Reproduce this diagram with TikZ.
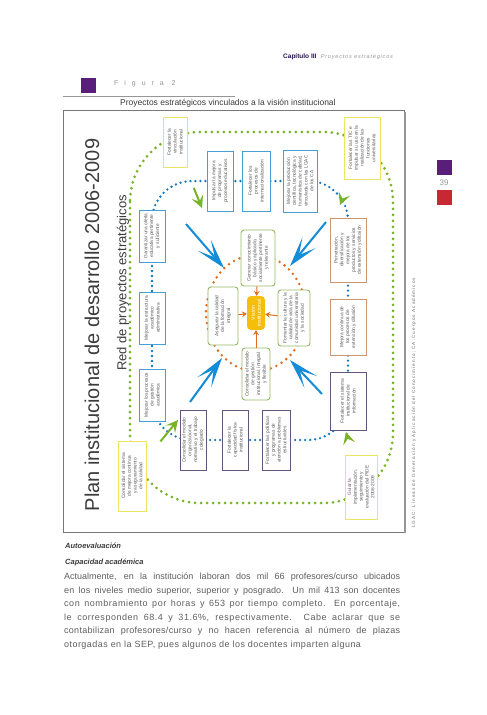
\documentclass[tikz,border=0pt]{standalone}
\usepackage{fontspec}
\setmainfont{Liberation Sans}
\newfontfamily\figlabelfont[LetterSpace=85]{Liberation Sans}
\newfontfamily\headfont[LetterSpace=15]{Liberation Sans}
\newfontfamily\notefont[LetterSpace=23]{Liberation Sans}
\usepackage{tikz}
\usetikzlibrary{positioning,arrows.meta,shapes.geometric}
\usepackage{xcolor}
\definecolor{figpurple}{RGB}{88,30,122}
\definecolor{pagered}{RGB}{200,40,52}
\definecolor{chapnavy}{RGB}{40,22,80}
\definecolor{softgray}{RGB}{150,150,150}
\definecolor{notegray}{RGB}{110,110,110}
\definecolor{bodygray}{RGB}{95,95,95}
\definecolor{titlegray}{RGB}{60,60,60}
\definecolor{framegray}{RGB}{120,120,120}
\definecolor{boxtext}{RGB}{90,90,90}
\definecolor{boxblue}{RGB}{70,160,210}
\definecolor{boxpurple}{RGB}{100,84,124}
\definecolor{boxtan}{RGB}{205,150,110}
\definecolor{boxyellow}{RGB}{238,228,100}
\definecolor{boxolive}{RGB}{150,185,100}
\definecolor{visionyellow}{RGB}{245,190,10}
\definecolor{dotgreen}{RGB}{120,180,40}
\definecolor{dotblue}{RGB}{20,120,190}
\definecolor{dotorange}{RGB}{225,110,30}
\definecolor{arrowblue}{RGB}{20,140,215}

\newcommand{\track}[1]{\addfontfeature{LetterSpace=#1}}

\tikzset{
  diagbox/.style={rotate=90, draw, fill=white, line width=0.9pt, align=center,
    inner sep=1pt, text=boxtext, font=\fontsize{4.8}{5.8}\selectfont},
  boxsize/.style 2 args={minimum width=#1pt, minimum height=#2pt},
  bluebox/.style={diagbox, draw=boxblue},
  purplebox/.style={diagbox, draw=boxpurple},
  tanbox/.style={diagbox, draw=boxtan},
  yellowbox/.style={diagbox, draw=boxyellow},
  innerbox/.style={diagbox, draw=boxolive, rounded corners=3pt},
  visionbox/.style={rotate=90, fill=visionyellow, rounded corners=4pt, text=white,
    align=center, inner sep=1pt, font=\fontsize{5.2}{6.2}\selectfont},
  greendots/.style={draw=dotgreen, line width=3pt, line cap=round, dash pattern=on 0pt off 6pt},
  bluedots/.style={draw=dotblue, line width=2.6pt, line cap=round, dash pattern=on 0pt off 5pt},
  orangedots/.style={draw=dotorange, line width=2.8pt, line cap=round, dash pattern=on 0pt off 6pt},
  bigarrow/.style={draw=arrowblue, line width=2pt, -{Stealth[length=30pt,width=17pt,inset=16pt]}},
  greentip/.style={draw=dotgreen, line width=2pt, shorten <=22pt, -{Stealth[length=12pt,width=12pt,inset=5pt]}},
  orangetip/.style={draw=dotorange, line width=1pt, -{Stealth[length=5pt,width=6pt,inset=2pt]}}
}

\begin{document}
\begin{tikzpicture}[x=1pt,y=-1pt]
\useasboundingbox[fill=white] (0,0) rectangle (487,715);

% page header
\node[anchor=west, inner sep=0, text=chapnavy, font=\bfseries\fontsize{6.5}{7}\selectfont] (chap) at (283,57) {Capítulo III};
\node[right=4pt of chap, inner sep=0, text=softgray, font=\headfont\itshape\fontsize{5.5}{6}\selectfont] (chaptitle) {Proyectos estratégicos};
\node[fill=figpurple, minimum size=15pt, inner sep=0] (figsquare) at (88,85) {};
\node[anchor=west, inner sep=0, text=softgray, font=\figlabelfont\fontsize{7}{8}\selectfont] (figlabel) at (114,84) {Figura 2};
\draw[softgray, line width=0.8pt] (63,96) -- (235,96);
\node[anchor=west, inner sep=0, text=titlegray, font=\fontsize{8.5}{9}\selectfont] (caption) at (120,103) {Proyectos estratégicos vinculados a la visión institucional};

% side marks
\node[fill=figpurple, minimum size=15pt, inner sep=0] (sidepurple) at (444,167) {};
\node[text=softgray, inner sep=0, font=\fontsize{8}{8}\selectfont] (pagenum) at (444,183) {39};
\node[fill=pagered, minimum size=15pt, inner sep=0] (sidered) at (444,197) {};

% figure frame
\draw[framegray, line width=0.7pt] (63,110) rectangle (404,532);
\draw[softgray, line width=2pt] (405,112) -- (405,533);

\node[rotate=90, inner sep=0, text=titlegray, font=\fontsize{20}{20}\selectfont] (plan) at (92,325) {Plan institucional de desarrollo 2006-2009};
\node[rotate=90, inner sep=0, text=titlegray, font=\fontsize{13}{13}\selectfont] (red) at (123,283) {Red de proyectos estratégicos};
\node[rotate=90, anchor=west, inner sep=0, text=notegray, font=\notefont\fontsize{4.6}{5}\selectfont] (lgac) at (414,528) {LGAC: Líneas de Generación y Aplicación del Conocimiento; CA:Cuerpos Académicos};

% rings
\draw[greendots, rounded corners=70pt] (130,132) rectangle (393,503);
\draw[bluedots, rounded corners=40pt] (152,181) rectangle (348,440);
\draw[orangedots] (256,313) ellipse[x radius=50pt, y radius=58pt];

% corner projects
\node[yellowbox, boxsize={50}{24}] (vinculacion) at (175,142) {Fortalecer la\\vinculación\\institucional};
\node[yellowbox, boxsize={62}{36}] (tic) at (362,148) {Fortalecer las TIC e\\impulsar su uso en la\\realización de las\\funciones\\universitarias};
\node[yellowbox, boxsize={70}{28}] (calidad) at (132,476) {Consolidar el sistema\\de mejora continua\\y aseguramiento\\de la calidad};
\node[yellowbox, boxsize={64}{32}] (pide) at (361,487) {Guiar la\\implementación,\\seguimiento y\\evaluación del PIDE\\2006-2009};

% outer ring
\node[bluebox, boxsize={60}{26}] (programas) at (220,181) {Impulsar la mejora\\de programas y\\procesos educativos};
\node[bluebox, boxsize={60}{28}] (internac) at (256,181) {Fortalecer los\\procesos de\\internacionalización};
\node[bluebox, boxsize={62}{34}] (produccion) at (300,181) {Mejorar la producción\\científica, tecnológica y\\humanística de calidad,\\vinculada con las LGAC\\de los CA};
\node[bluebox, boxsize={52}{26}] (oferta) at (152,236) {Garantizar una oferta\\educativa pertinente\\y suficiente};
\node[bluebox, boxsize={52}{26}] (estructura) at (152,318) {Mejorar la estructura\\académico\\administrativa};
\node[bluebox, boxsize={52}{26}] (gestion) at (152,395) {Mejorar los procesos\\de gestión\\académica};
\node[purplebox, boxsize={60}{26}] (organizacional) at (193,440) {Consolidar el modelo\\organizacional,\\normativo y el trabajo\\colegiado};
\node[purplebox, boxsize={60}{26}] (capacidad) at (235,440) {Fortalecer la\\capacidad física\\institucional};
\node[purplebox, boxsize={60}{28}] (politicas) at (276,440) {Fortalecer las políticas\\y programas de\\atención a problemas\\estructurales};
\node[tanbox, boxsize={64}{36}] (penetracion) at (348,250) {Penetración,\\diversificación y\\mejora de los\\productos y servicios\\de extensión y difusión};
\node[tanbox, boxsize={56}{36}] (extension) at (348,327) {Mejora continua de\\los procesos de\\extensión y difusión};
\node[purplebox, boxsize={58}{36}] (informacion) at (348,401) {Fortalecer el sistema\\institucional de\\información};

% inner ring
\node[visionbox, boxsize={34}{18}] (vision) at (256,313) {Visión\\institucional};
\node[innerbox, boxsize={56}{34}] (conocimiento) at (258,258) {Generar conocimiento\\básico y aplicado,\\socialmente pertinente\\y relevante};
\node[innerbox, boxsize={58}{30}] (formacion) at (223,316) {Asegurar la calidad\\de la formación\\integral};
\node[innerbox, boxsize={56}{32}] (cultura) at (294,318) {Fomentar la cultura y la\\calidad de vida de la\\comunidad universitaria\\y la sociedad};
\node[innerbox, boxsize={52}{28}] (modelo) at (256,374) {Consolidar el modelo\\de gestión\\institucional, integral\\y flexible};

\draw[orangetip] (conocimiento) -- (vision);
\draw[orangetip] (formacion) -- (vision);
\draw[orangetip] (cultura) -- (vision);
\draw[orangetip] (modelo) -- (vision);

% arrows
\coordinate (tlfrom) at (186,224);
\coordinate (tlto) at (224,268);
\coordinate (trfrom) at (326,222);
\coordinate (trto) at (290,266);
\coordinate (blfrom) at (190,402);
\coordinate (blto) at (222,358);
\coordinate (brfrom) at (322,394);
\coordinate (brto) at (290,360);
\draw[bigarrow] (tlfrom) -- (tlto);
\draw[bigarrow] (trfrom) -- (trto);
\draw[bigarrow] (blfrom) -- (blto);
\draw[bigarrow] (brfrom) -- (brto);

\coordinate (tlgreen) at (202,208);
\coordinate (trgreen) at (340,205);
\coordinate (blgreen) at (178,420);
\coordinate (brgreen) at (346,432);
\draw[greentip] (vinculacion) -- (tlgreen);
\draw[greentip] (tic) -- (trgreen);
\draw[greentip] (calidad) -- (blgreen);
\draw[greentip] (pide) -- (brgreen);

% text below
\node[anchor=base west, inner sep=0, text=titlegray, font=\bfseries\itshape\fontsize{7.5}{8}\selectfont] (autoeval) at (65,548) {Autoevaluación};
\node[anchor=base west, inner sep=0, text=titlegray, font=\bfseries\itshape\fontsize{7.5}{8}\selectfont] (capacad) at (65,564) {Capacidad académica};
\node[anchor=north west, inner sep=0, text width=336pt, align=justify, text=bodygray, font=\fontsize{9}{13.5}\selectfont] (parrafo) at (64,573) {\parfillskip=0pt Actualmente, en la institución laboran dos mil 66 profesores/curso ubicados\linebreak
{\track{1}en los niveles medio superior, superior y posgrado. Un mil 413 son docentes}\linebreak
{\track{6}con nombramiento por horas y 653 por tiempo completo. En porcentaje,}\linebreak
{\track{6}le corresponden 68.4 y 31.6\%, respectivamente. Cabe aclarar que se}\linebreak
{\track{3}contabilizan profesores/curso y no hacen referencia al número de plazas}\linebreak
{\track{5}otorgadas en la SEP, pues algunos de los docentes imparten alguna}};
\end{tikzpicture}
\end{document}
